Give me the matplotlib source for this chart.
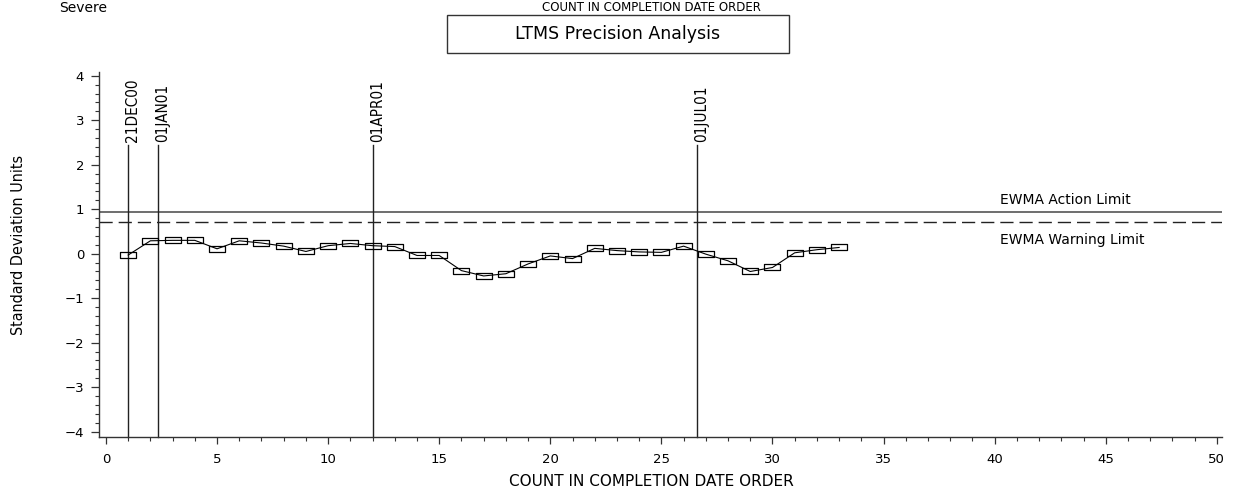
import matplotlib
matplotlib.use("Agg")
import matplotlib.pyplot as plt
import matplotlib.transforms as mtransforms
from matplotlib import font_manager as fm
from matplotlib.patches import Rectangle
from matplotlib.path import Path
from matplotlib.ticker import MultipleLocator

# ---- data ----
counts = list(range(1, 34))
ewma = [-0.03, 0.29, 0.30, 0.30, 0.11, 0.29, 0.24, 0.17, 0.05, 0.18,
        0.23, 0.18, 0.16, -0.04, -0.04, -0.38, -0.50, -0.45, -0.23, -0.05,
        -0.11, 0.12, 0.07, 0.04, 0.03, 0.17, -0.01, -0.16, -0.40, -0.31,
        0.02, 0.09, 0.14]
date_pos = [1.0, 2.33, 12.01, 26.6]
date_labels = ["21DEC00", "01JAN01", "01APR01", "01JUL01"]
action_limit = 0.94
warning_limit = 0.71
limit_labels = ["EWMA Action Limit", "EWMA Warning Limit"]
xticks = [0, 5, 10, 15, 20, 25, 30, 35, 40, 45, 50]
yticks = [-4, -3, -2, -1, 0, 1, 2, 3, 4]

# ---- pick a condensed font if one is installed ----
cond_file = None
cands = []
for f in fm.fontManager.ttflist:
    nm = (f.name + " " + str(f.fname)).lower()
    st = str(f.stretch).lower()
    if ("narrow" in nm or "condensed" in nm or "cond" in st) and f.style == "normal":
        w = f.weight if isinstance(f.weight, int) else (400 if f.weight == "normal" else 700)
        cands.append((abs(w - 400), "dejavu" not in nm, f.fname))
if cands:
    cands.sort()
    cond_file = cands[0][2]

def narrow_props(size, fallback):
    if cond_file:
        return fm.FontProperties(fname=cond_file, size=size)
    return fm.FontProperties(family="DejaVu Sans", size=fallback)

W, H = 1245, 493
fig = plt.figure(figsize=(W / 100, H / 100), dpi=100)

def fx(px):
    return px / W

def fy(py):
    return 1 - py / H

L, R, T, B = 99.3, 1221.7, 71.7, 437.3
ax = fig.add_axes([fx(L), fy(B), (R - L) / W, (B - T) / H])
ax.set_xlim(-0.3, 50.22)
ax.set_ylim(-4.126, 4.09)

wide = ["DejaVu Sans"]
axcol = "#333333"

for s in ["top", "right"]:
    ax.spines[s].set_visible(False)
for s in ["left", "bottom"]:
    ax.spines[s].set_color(axcol)
    ax.spines[s].set_linewidth(1.0)

ax.set_xticks(xticks)
ax.set_yticks(yticks)
ax.xaxis.set_minor_locator(MultipleLocator(1))
ax.yaxis.set_minor_locator(MultipleLocator(0.2))
ax.tick_params(axis="x", which="major", direction="out", length=5, width=0.9,
               color=axcol, pad=6, labelsize=9.5)
ax.tick_params(axis="x", which="minor", direction="out", length=3, width=0.8, color=axcol)
ax.tick_params(axis="y", which="major", direction="out", length=6, width=0.9,
               color=axcol, pad=5, labelsize=9.5)
ax.tick_params(axis="y", which="minor", direction="out", length=3, width=0.8, color=axcol)
for lab in ax.get_xticklabels() + ax.get_yticklabels():
    lab.set_family(wide)

# limits
ax.axhline(action_limit, color="#555555", lw=1.2)
ax.axhline(warning_limit, color="#222222", lw=1.0, dashes=(9.5, 4.3))
ax.text(40.25, 1.06, limit_labels[0], fontsize=10, family=wide, va="bottom", ha="left")
ax.text(40.25, 0.46, limit_labels[1], fontsize=10, family=wide, va="top", ha="left")

# date reference lines
off = mtransforms.offset_copy(ax.transData, fig=fig, x=4.5, y=0, units="dots")
for xp, lbl in zip(date_pos, date_labels):
    ax.plot([xp, xp], [-4.126, 2.45], color="#222222", lw=1.0, clip_on=False)
    ax.text(xp, 2.52, lbl, rotation=90, ha="center", va="bottom",
            fontproperties=narrow_props(11, 8.3), transform=off)

# EWMA series
box = Path([(-1, -0.36), (1, -0.36), (1, 0.36), (-1, 0.36), (-1, -0.36)],
           [Path.MOVETO, Path.LINETO, Path.LINETO, Path.LINETO, Path.CLOSEPOLY])
ax.plot(counts, ewma, color="black", lw=0.8, marker=box, markersize=11.8,
        markerfacecolor="none", markeredgecolor="black", markeredgewidth=0.9)

# axis labels
ax.set_xlabel("COUNT IN COMPLETION DATE ORDER", fontsize=11, family=wide)
ax.xaxis.set_label_coords((651 - L) / (R - L), -(481 - B) / (B - T))
ax.xaxis.label.set_va("center")
ax.set_ylabel("Standard Deviation Units", fontproperties=narrow_props(11.5, 8.0))
ax.yaxis.set_label_coords((19 - L) / (R - L), (B - 245) / (B - T))
ax.yaxis.label.set_va("center")

# header texts
fig.text(fx(651), fy(1), "COUNT IN COMPLETION DATE ORDER", fontsize=8.5,
         family=wide, ha="center", va="top")
fig.text(fx(59), fy(11.7), "Severe", fontsize=10, family=wide, ha="left", va="baseline")
fig.patches.append(Rectangle((fx(446.7), fy(53.3)), (789 - 446.7) / W, (53.3 - 15) / H,
                             transform=fig.transFigure, fill=False,
                             edgecolor="#333333", lw=1.0))
fig.text(fx(618), fy(34), "LTMS Precision Analysis", fontsize=12.5, family=wide,
         ha="center", va="center")

fig.savefig("out.png", dpi=100)
